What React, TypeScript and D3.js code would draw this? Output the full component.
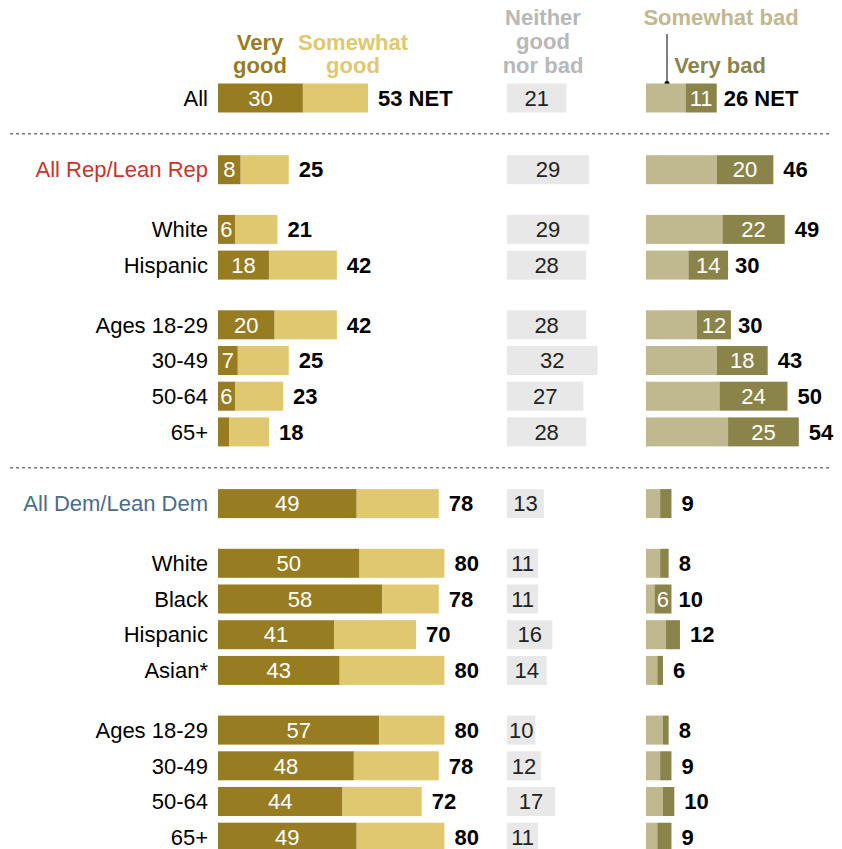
import React from "react";
import * as d3 from "d3";

const categories = [
  "All",
  "All Rep/Lean Rep", "White", "Hispanic", "Ages 18-29", "30-49", "50-64", "65+",
  "All Dem/Lean Dem", "White", "Black", "Hispanic", "Asian*", "Ages 18-29", "30-49", "50-64", "65+",
];
// gap before each row: 0 none, 1 group break, 2 section break
const gapsBefore = [0, 2, 1, 0, 1, 0, 0, 0, 2, 1, 0, 0, 0, 1, 0, 0, 0];
const veryGood = [30, 8, 6, 18, 20, 7, 6, 4, 49, 50, 58, 41, 43, 57, 48, 44, 49];
const netGood = [53, 25, 21, 42, 42, 25, 23, 18, 78, 80, 78, 70, 80, 80, 78, 72, 80];
const neither = [21, 29, 29, 28, 28, 32, 27, 28, 13, 11, 11, 16, 14, 10, 12, 17, 11];
const somewhatBad = [14, 25, 27, 15, 18, 25, 26, 29, 5, 5, 3, 7, 4, 6, 5, 6, 4];
const veryBad = [11, 20, 22, 14, 12, 18, 24, 25, 4, 3, 6, 5, 2, 2, 4, 4, 5];
const netBad = [26, 46, 49, 30, 30, 43, 50, 54, 9, 8, 10, 12, 6, 8, 9, 10, 9];

const C = {
  vg: "#987c21",
  sg: "#e0c870",
  nb: "#e8e8e8",
  sb: "#c0b990",
  vb: "#8b844a",
  rep: "#c7352b",
  dem: "#4a6d8c",
};

const FONT = "'Liberation Sans', Arial, sans-serif";

export default function App() {
  const W = 842, H = 849;
  const x = d3.scaleLinear().domain([0, 100]).range([0, 283]);
  const goodX = 218, neitherX = 507, badX = 646;
  const step = 35.7, y0 = 98, gapPx = [0, 24, 36];
  const ys: number[] = [];
  categories.forEach((_, i) => {
    ys.push(i === 0 ? y0 : ys[i - 1] + step + gapPx[gapsBefore[i]]);
  });
  const bh = 29;
  const fs = 22;
  const sectionLines = gapsBefore
    .map((g, i) => (g === 2 ? (ys[i] + ys[i - 1]) / 2 : null))
    .filter((v) => v !== null) as number[];

  const labelColor = (i: number) => (i === 1 ? C.rep : i === 8 ? C.dem : "#000");

  return (
    <svg width={W} height={H} style={{ position: "absolute", left: 0, top: 0, background: "#fff" }} fontFamily={FONT}>
      {/* headers */}
      <g fontWeight="bold" fontSize={fs} textAnchor="middle">
        <text x={260} y={50} fill={C.vg}>Very</text>
        <text x={260} y={73} fill={C.vg}>good</text>
        <text x={353} y={50} fill={C.sg}>Somewhat</text>
        <text x={353} y={73} fill={C.sg}>good</text>
        <text x={543} y={25} fill="#b8b8b8">Neither</text>
        <text x={543} y={49} fill="#b8b8b8">good</text>
        <text x={543} y={73} fill="#b8b8b8">nor bad</text>
        <text x={721} y={25} fill={C.sb}>Somewhat bad</text>
        <text x={720} y={73} fill={C.vb}>Very bad</text>
      </g>
      <line x1={667} x2={667} y1={34} y2={ys[0] - bh / 2} stroke="#000" strokeWidth={1} />
      <circle cx={667} cy={ys[0] - bh / 2} r={2.5} fill="#000" />

      {sectionLines.map((y, k) => (
        <line key={k} x1={10} x2={832} y1={y} y2={y} stroke="#777" strokeWidth={1.5} strokeDasharray="3,3" />
      ))}

      {categories.map((cat, i) => {
        const y = ys[i];
        const top = y - bh / 2;
        const vgW = x(veryGood[i]);
        const sgW = x(netGood[i] - veryGood[i]);
        const nW = x(neither[i]);
        const sbW = x(somewhatBad[i]);
        const vbW = x(veryBad[i]);
        return (
          <g key={i} fontSize={fs}>
            <text x={208} y={y} dy="0.35em" textAnchor="end" fill={labelColor(i)}>{cat}</text>
            <rect x={goodX} y={top} width={vgW} height={bh} fill={C.vg} />
            <rect x={goodX + vgW} y={top} width={sgW} height={bh} fill={C.sg} />
            {veryGood[i] >= 5 && (
              <text x={goodX + vgW / 2} y={y} dy="0.35em" textAnchor="middle" fill="#fff">{veryGood[i]}</text>
            )}
            <text x={goodX + vgW + sgW + 10} y={y} dy="0.35em" fontWeight="bold" fill="#000">
              {netGood[i]}{i === 0 ? " NET" : ""}
            </text>
            <rect x={neitherX} y={top} width={nW} height={bh} fill={C.nb} />
            <text x={neitherX + nW / 2} y={y} dy="0.35em" textAnchor="middle" fill="#222">{neither[i]}</text>
            <rect x={badX} y={top} width={sbW} height={bh} fill={C.sb} />
            <rect x={badX + sbW} y={top} width={vbW} height={bh} fill={C.vb} />
            {veryBad[i] >= 6 && (
              <text x={badX + sbW + vbW / 2} y={y} dy="0.35em" textAnchor="middle" fill="#fff">{veryBad[i]}</text>
            )}
            <text x={badX + sbW + vbW + (veryBad[i] >= 6 && vbW < 40 ? 7 : 10)} y={y} dy="0.35em" fontWeight="bold" fill="#000">
              {netBad[i]}{i === 0 ? " NET" : ""}
            </text>
          </g>
        );
      })}
    </svg>
  );
}
